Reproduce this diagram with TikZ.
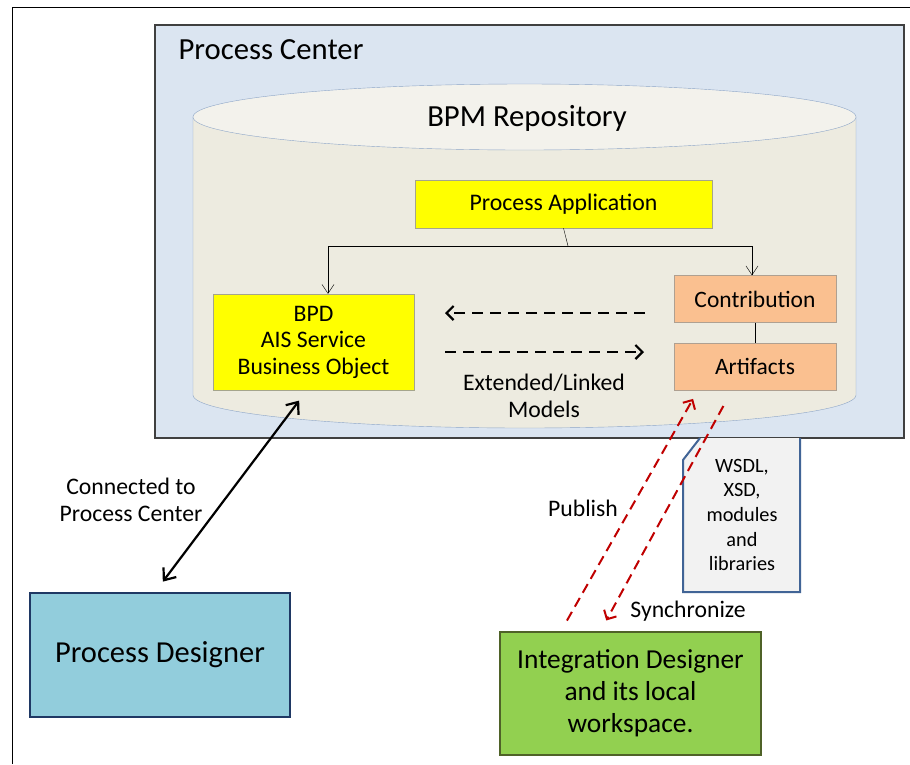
\documentclass[tikz,border=0pt]{standalone}
\usepackage{fontspec}
\setmainfont{Carlito}
\usepackage{xcolor}
\usetikzlibrary{positioning,arrows.meta,calc}
\definecolor{pcfill}{RGB}{219,229,241}
\definecolor{cyltop}{RGB}{243,242,236}
\definecolor{cylbody}{RGB}{237,235,224}
\definecolor{cylline}{RGB}{140,165,200}
\definecolor{ylw}{RGB}{255,255,0}
\definecolor{ylwline}{RGB}{165,165,140}
\definecolor{orng}{RGB}{250,192,144}
\definecolor{orngline}{RGB}{175,160,145}
\definecolor{pdfill}{RGB}{146,205,220}
\definecolor{pdline}{RGB}{31,56,100}
\definecolor{idfill}{RGB}{146,208,80}
\definecolor{idline}{RGB}{79,98,40}
\definecolor{docfill}{RGB}{242,242,242}
\definecolor{docline}{RGB}{65,100,150}
\definecolor{redarr}{RGB}{192,0,0}
\newcommand{\fsz}[2]{\fontsize{#1}{#2}\selectfont}

\begin{document}
\begin{tikzpicture}[x=1pt, y=-1pt,
  yb/.style={draw=ylwline, fill=ylw, align=center, inner sep=0pt},
  ob/.style={draw=orngline, fill=orng, align=center, inner sep=0pt, minimum width=162, minimum height=47, font=\fsz{23.5}{26}},
  arr/.style={-{Straight Barb[length=9pt, width=12pt]}, thin},
  darr/.style={-{Straight Barb[length=7pt, width=14pt]}, line width=2.2pt, dash pattern=on 11pt off 7pt},
  rarr/.style={-{Straight Barb[length=7pt, width=14pt]}, redarr, line width=2pt, dash pattern=on 10pt off 6pt},
  lbl/.style={align=center, font=\fsz{23.7}{27}}]
\useasboundingbox (0,0) rectangle (910,764);
\fill[white] (0,0) rectangle (910,764);
\draw[line width=1pt] (12,764) -- (12,7) -- (910,7);
% process center and repository
\draw[fill=pcfill, draw=black!75, line width=1.2pt] (155,25) rectangle (904,438);
\node[anchor=west, font=\fsz{30.7}{34}] (pc) at (175,50) {Process Center};
\fill[cylbody] (193,117) rectangle (856,395);
\fill[cylbody] (524.5,395) ellipse[x radius=331.5, y radius=33];
\draw[cylline] (193,117) -- (193,395) arc[start angle=180, end angle=0, x radius=331.5, y radius=33] -- (856,117);
\draw[cylline, fill=cyltop] (524.5,117) ellipse[x radius=331.5, y radius=33];
\node[font=\fsz{30.7}{34}] (repo) at (527,118) {BPM Repository};
\node[yb, minimum width=297, minimum height=48, font=\fsz{23.8}{26}] (pa) at (563.5,204) {Process Application};
\node[yb, minimum width=201, minimum height=96, font=\fsz{23.7}{26.5}] (bpd) at (313.5,342) {BPD\\AIS Service\\Business Object};
\node[ob] (contrib) at (755,299) {Contribution};
\node[ob] (art) at (755,366.5) {Artifacts};
\coordinate (jn) at (568,246);
\draw (pa.south) -- (jn);
\draw[arr] (jn) -| ([xshift=14.5]bpd.north);
\draw[arr] (jn) -| ([xshift=-3]contrib.north);
\draw (contrib) -- (art);
\coordinate (dl1) at (645,313);
\coordinate (dl2) at (445,313);
\coordinate (dr1) at (445,352);
\coordinate (dr2) at (644,352);
\draw[darr] (dl1) -- (dl2);
\draw[darr] (dr1) -- (dr2);
\node[lbl] (ext) at (544,396) {Extended/Linked\\Models};
% artifacts document
\draw[fill=docfill, draw=docline, line width=2pt] (700,438) -- (683,460) -- (683,592) -- (800,592) -- (800,438);
\node[align=center, font=\fsz{20.3}{24.7}] (docs) at (742,515) {WSDL,\\XSD,\\modules\\and\\libraries};
% designers
\node[draw=pdline, fill=pdfill, line width=2pt, minimum width=260, minimum height=124, font=\fsz{30.5}{34}] (pd) at (160,655) {Process Designer};
\node[draw=idline, fill=idfill, line width=2pt, minimum width=261, minimum height=123, align=center, font=\fsz{27.4}{32}] (id) at (630.5,693.5) {Integration Designer\\and its local\\workspace.};
\draw[{Straight Barb[length=10pt, width=16pt]}-{Straight Barb[length=10pt, width=16pt]}, line width=2.2pt, shorten <=13pt, shorten >=13pt] ([xshift=-6.5]bpd.south) -- ([xshift=-5]pd.north);
\node[lbl] (conn) at (131,500) {Connected to\\Process Center};
\draw[rarr, shorten <=12pt, shorten >=10pt] ([xshift=-69.5]id.north) -- ([xshift=-57]art.south);
\draw[rarr, shorten <=18pt, shorten >=12pt] ([xshift=-23]art.south) -- ([xshift=-30]id.north);
\node[lbl] (pub) at (583,508) {Publish};
\node[lbl] (sync) at (688,611) {Synchronize};
\end{tikzpicture}
\end{document}
